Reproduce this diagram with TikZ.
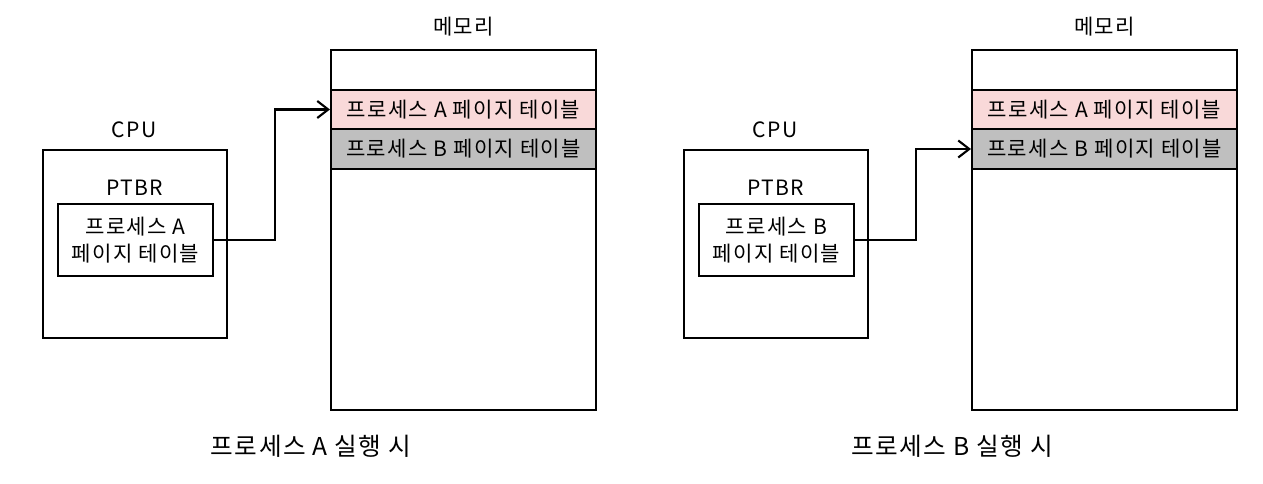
\documentclass[tikz,border=0pt]{standalone}
\usepackage{fontspec}
\setmainfont[LetterSpace=6]{Noto Sans CJK KR}
\usepackage{xcolor}
\usetikzlibrary{arrows.meta, positioning, calc}
\definecolor{rowpink}{HTML}{F9D9D9}
\definecolor{rowgray}{HTML}{BFBFBF}

\begin{document}
\begin{tikzpicture}[x=0.02cm, y=-0.02cm,
    box/.style={draw, line width=1.2pt},
    lbl/.style={font=\fontsize{12}{15}\selectfont},
    runcap/.style={font=\fontsize{14}{16}\selectfont},
    row/.style={box, lbl, minimum width=5.3cm, minimum height=0.79cm, inner sep=0pt}]
    \useasboundingbox (0,0) rectangle (1263,483);
    \foreach \p/\dx in {A/0, B/641} {
      \begin{scope}[shift={(\dx,0)}]
        % cpu side
        \node[box, minimum width=3.68cm, minimum height=3.76cm] (cpu\p) at (135,244) {};
        \node[lbl] (cpuLbl\p) at (134,130) {CPU};
        \node[lbl] (ptbr\p) at (135,188) {PTBR};
        \node[box, lbl, align=center, minimum width=3.1cm, minimum height=1.44cm] (reg\p) at (135.5,240) {프로세스 \p\\페이지 테이블};
        % memory side
        \node[box, minimum width=5.3cm, minimum height=7.2cm] (mem\p) at (463.5,230) {};
        \node[lbl] (memLbl\p) at (463.5,27) {메모리};
        \node[row, fill=rowpink] (ptA\p) at (463.5,109.5) {프로세스 A 페이지 테이블};
        \node[row, fill=rowgray] (ptB\p) at (463.5,149) {프로세스 B 페이지 테이블};
        \draw[box, -{Straight Barb[length=2.2mm, width=3.4mm]}] (reg\p.east) -- ++(61,0) |- (pt\p\p.west);
        \node[runcap] (run\p) at (311,446) {프로세스 \p\ 실행 시};
      \end{scope}
    }
\end{tikzpicture}
\end{document}
